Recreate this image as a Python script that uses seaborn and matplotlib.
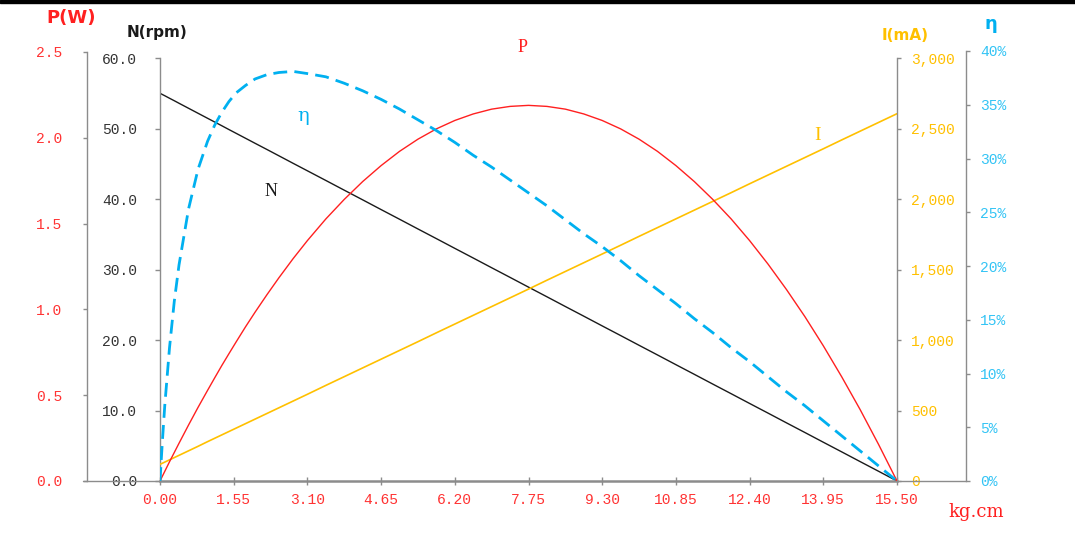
import pandas as pd
import matplotlib.pyplot as plt
import seaborn as sns
from matplotlib.lines import Line2D
from matplotlib.patches import Rectangle
from matplotlib.ticker import FuncFormatter

# Curvas del motor (par en kg.cm)
torque = [0, 0.05, 0.1, 0.2, 0.3, 0.4, 0.6, 0.8, 1.0, 1.15, 1.3, 1.45, 1.6,
          1.8, 2.0, 2.25, 2.5, 2.8, 3.1, 3.4875, 3.875, 4.2625, 4.65, 5.0375,
          5.425, 5.8125, 6.2, 6.5875, 6.975, 7.3625, 7.75, 8.1375, 8.525,
          8.9125, 9.3, 9.6875, 10.075, 10.4625, 10.85, 11.2375, 11.625,
          12.0125, 12.4, 12.7875, 13.175, 13.5625, 13.95, 14.3375, 14.725,
          15.1125, 15.5]
speed = [55.0, 54.82, 54.65, 54.29, 53.94, 53.58, 52.87, 52.16, 51.45, 50.92,
         50.39, 49.85, 49.32, 48.61, 47.90, 47.02, 46.13, 45.06, 44.0, 42.63,
         41.25, 39.88, 38.5, 37.13, 35.75, 34.38, 33.0, 31.63, 30.25, 28.88,
         27.5, 26.13, 24.75, 23.38, 22.0, 20.63, 19.25, 17.88, 16.5, 15.13,
         13.75, 12.38, 11.0, 9.63, 8.25, 6.88, 5.5, 4.13, 2.75, 1.38, 0.0]
power = [0, 0.028, 0.056, 0.112, 0.166, 0.220, 0.326, 0.429, 0.528, 0.601,
         0.673, 0.742, 0.810, 0.899, 0.984, 1.086, 1.184, 1.296, 1.401, 1.527,
         1.641, 1.745, 1.838, 1.921, 1.992, 2.052, 2.101, 2.139, 2.167, 2.183,
         2.189, 2.183, 2.167, 2.139, 2.101, 2.052, 1.992, 1.921, 1.838, 1.745,
         1.641, 1.527, 1.401, 1.264, 1.116, 0.958, 0.788, 0.607, 0.416, 0.213,
         0]
current = [118, 126, 134, 150, 166, 182, 214, 246, 279, 303, 327, 351, 375,
           407, 439, 479, 519, 567, 615, 678, 740, 802, 864, 926, 988, 1051,
           1113, 1175, 1237, 1299, 1361, 1424, 1486, 1548, 1610, 1672, 1735,
           1797, 1859, 1921, 1983, 2045, 2108, 2170, 2232, 2294, 2356, 2419,
           2481, 2543, 2605]
efficiency = [0, 0.037, 0.070, 0.124, 0.167, 0.201, 0.253, 0.290, 0.316,
              0.331, 0.343, 0.353, 0.361, 0.368, 0.374, 0.378, 0.380, 0.381,
              0.379, 0.376, 0.370, 0.363, 0.355, 0.346, 0.336, 0.326, 0.315,
              0.303, 0.292, 0.280, 0.268, 0.256, 0.243, 0.230, 0.218, 0.205,
              0.191, 0.178, 0.165, 0.151, 0.138, 0.124, 0.111, 0.097, 0.083,
              0.070, 0.056, 0.042, 0.028, 0.014, 0]

x_ticks = [0, 1.55, 3.10, 4.65, 6.20, 7.75, 9.30, 10.85, 12.40, 13.95, 15.50]

df = pd.DataFrame({"torque": torque, "N": speed, "P": power,
                   "I": current, "eta": efficiency})

sns.set_style("white")
plt.rcParams["font.family"] = ["Liberation Mono", "DejaVu Sans Mono"]

ROJO = "#FF3333"
AMARILLO = "#FFC000"
CIAN = "#00B0F0"
GRIS = "#8C8C8C"

W_PX, H_PX = 1075, 533
fig = plt.figure(figsize=(W_PX / 100, H_PX / 100), dpi=100)

left = 160 / W_PX
width = (897 - 160) / W_PX
bottom = (H_PX - 481) / H_PX

ax = fig.add_axes([left, bottom, width, (481 - 58) / H_PX])
axI = ax.twinx()
axP = fig.add_axes([left, bottom, width, (481 - 52) / H_PX])
axE = fig.add_axes([left, bottom, width, (481 - 51) / H_PX])

for a in (axI, axP, axE):
    a.patch.set_visible(False)
for a in (ax, axI, axP, axE):
    a.set_xlim(0, 15.5)
    for s in a.spines.values():
        s.set_visible(False)
        s.set_color(GRIS)
        s.set_linewidth(1.0)
    a.grid(False)

# Curvas
sns.lineplot(data=df, x="torque", y="N", ax=ax, color="#1A1A1A", linewidth=1.0)
sns.lineplot(data=df, x="torque", y="I", ax=axI, color=AMARILLO, linewidth=1.2)
sns.lineplot(data=df, x="torque", y="P", ax=axP, color="#FF2020", linewidth=1.0)
sns.lineplot(data=df, x="torque", y="eta", ax=axE, color=CIAN, linewidth=2.0,
             linestyle=(0, (5, 2.6)))

# Eje N y eje x
ax.set_ylim(0, 60)
ax.set_yticks([0, 10, 20, 30, 40, 50, 60])
ax.yaxis.set_major_formatter(FuncFormatter(lambda v, p: f"{v:.1f}"))
ax.spines["left"].set_visible(True)
ax.spines["bottom"].set_visible(True)
ax.spines["bottom"].set_linewidth(1.8)
ax.tick_params(axis="y", left=True, direction="out", length=3.6, width=1,
               color=GRIS, pad=13, labelsize=10.5, labelcolor="#333333")
ax.set_xticks(x_ticks)
ax.xaxis.set_major_formatter(FuncFormatter(lambda v, p: f"{v:.2f}"))
ax.tick_params(axis="x", bottom=True, direction="inout", length=5.8, width=1,
               color=GRIS, pad=6, labelsize=10.5, labelcolor=ROJO)
ax.set_xlabel("")
ax.set_ylabel("")

# Eje I
axI.set_ylim(0, 3000)
axI.set_yticks([0, 500, 1000, 1500, 2000, 2500, 3000])
axI.yaxis.set_major_formatter(FuncFormatter(lambda v, p: f"{v:,.0f}"))
axI.spines["right"].set_visible(True)
axI.tick_params(axis="y", right=True, direction="out", length=3, width=1,
                color=GRIS, pad=7, labelsize=10.5, labelcolor=AMARILLO)
axI.set_ylabel("")

# Eje P
axP.set_ylim(0, 2.5)
axP.set_yticks([0, 0.5, 1.0, 1.5, 2.0, 2.5])
axP.yaxis.set_major_formatter(FuncFormatter(lambda v, p: f"{v:.1f}"))
axP.spines["left"].set_visible(True)
axP.spines["left"].set_position(("outward", 52.6))
axP.tick_params(axis="y", left=True, direction="out", length=3, width=1,
                color=GRIS, pad=15, labelsize=10.5, labelcolor=ROJO)
axP.xaxis.set_visible(False)
axP.set_ylabel("")

# Eje eficiencia
axE.set_ylim(0, 0.40)
axE.set_yticks([0, 0.05, 0.10, 0.15, 0.20, 0.25, 0.30, 0.35, 0.40])
axE.yaxis.set_major_formatter(FuncFormatter(lambda v, p: f"{v * 100:.0f}%"))
axE.yaxis.tick_right()
axE.spines["right"].set_visible(True)
axE.spines["right"].set_position(("outward", 49.7))
axE.tick_params(axis="y", right=True, left=False, labelleft=False,
                labelright=True, direction="out", length=3, width=1,
                color=GRIS, pad=7, labelsize=10.5, labelcolor="#33C4F5")
axE.xaxis.set_visible(False)
axE.set_ylabel("")

# Lineas base junto a los ejes secundarios
y0 = bottom
fig.add_artist(Line2D([83 / W_PX, 160 / W_PX], [y0, y0], color=GRIS, lw=1.0))
fig.add_artist(Line2D([897 / W_PX, 966 / W_PX], [y0, y0], color=GRIS, lw=1.0))

# Franja negra superior
fig.add_artist(Rectangle((0, 1 - 3 / H_PX), 1, 3 / H_PX,
                         transform=fig.transFigure, color="black"))


def fx(px):
    return px / W_PX


def fy(py):
    return 1 - py / H_PX


# Titulos de ejes
fig.text(fx(71), fy(18), "P(W)", color="#FF2020", fontsize=13, weight="bold",
         family="DejaVu Sans", ha="center", va="center")
fig.text(fx(157), fy(33), "N(rpm)", color="#1A1A1A", fontsize=11,
         weight="bold", family="DejaVu Sans", ha="center", va="center")
fig.text(fx(905), fy(35), "I(mA)", color=AMARILLO, fontsize=11, weight="bold",
         family="DejaVu Sans", ha="center", va="center")
fig.text(fx(991), fy(24), "η", color=CIAN, fontsize=13, weight="bold",
         family="DejaVu Sans", ha="center", va="center")
fig.text(fx(976), fy(512), "kg.cm", color="#FF2020", fontsize=13,
         family="DejaVu Serif", ha="center", va="center")

# Etiquetas de las curvas
fig.text(fx(523), fy(47), "P", color="#FF2020", fontsize=13,
         family="Liberation Serif", ha="center", va="center")
fig.text(fx(303), fy(116), "η", color=CIAN, fontsize=14,
         family="DejaVu Serif", ha="center", va="center")
fig.text(fx(271), fy(192), "N", color="#1A1A1A", fontsize=13,
         family="Liberation Serif", ha="center", va="center")
fig.text(fx(818), fy(136), "I", color=AMARILLO, fontsize=14,
         family="Liberation Serif", ha="center", va="center")

fig.savefig("out.png", dpi=100)
